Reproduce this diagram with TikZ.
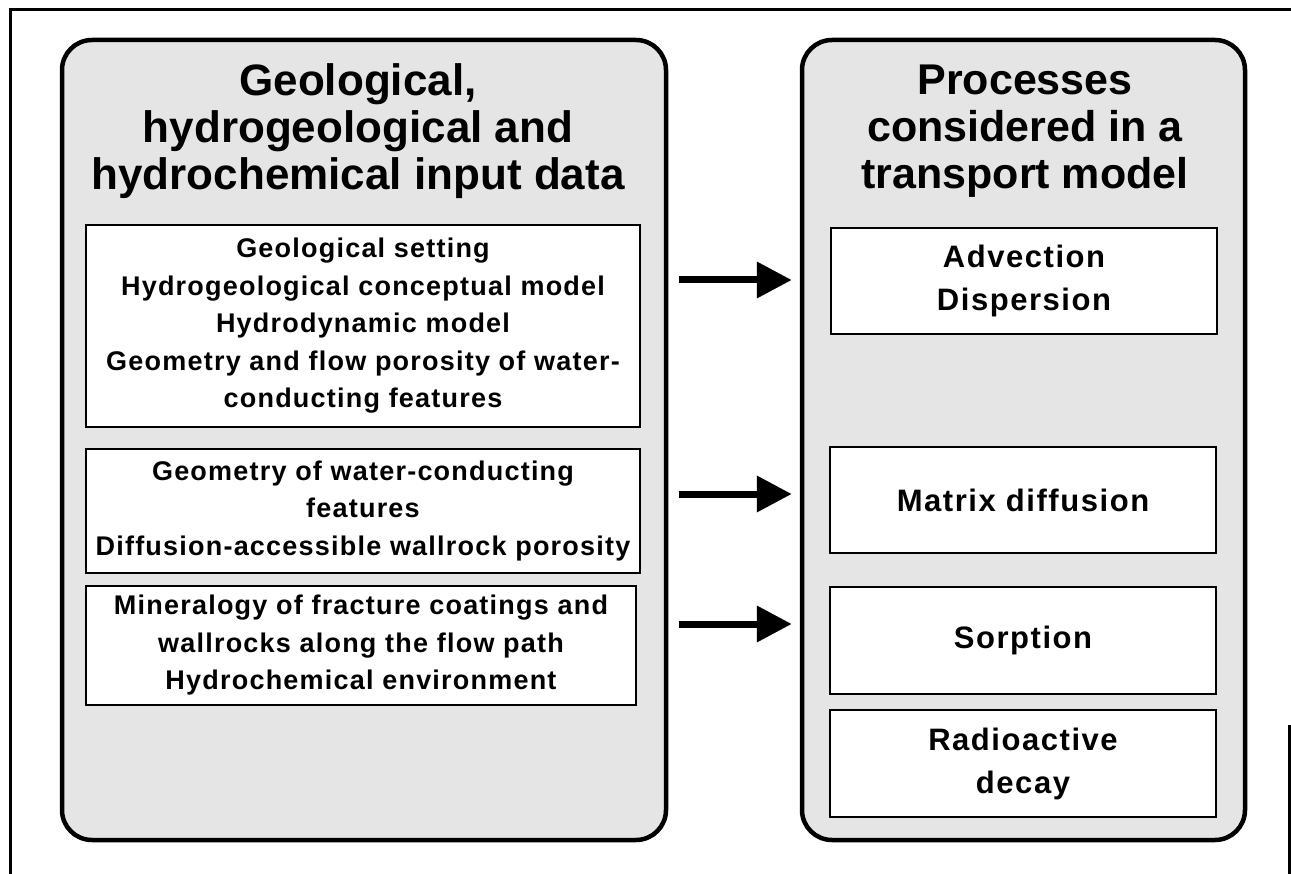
\documentclass[tikz,border=0pt]{standalone}
\usepackage{fontspec}
\setmainfont{Liberation Sans}
\usetikzlibrary{arrows.meta}

\tikzset{
  frameline/.style={line width=3pt},
  panel/.style={draw, line width=4.5pt, rounded corners=30pt, fill=black!10, inner sep=0pt},
  item/.style={draw, line width=1.6pt, fill=white, inner sep=0pt, align=center},
  headtext/.style={align=center, font=\fontsize{44}{47}\selectfont\bfseries},
  lefttext/.style={font=\fontsize{27}{37.5}\selectfont\bfseries\addfontfeatures{LetterSpace=4.5}},
  righttext/.style={font=\fontsize{31}{43}\selectfont\bfseries\addfontfeatures{LetterSpace=5}},
  flow/.style={line width=7pt, shorten >=8pt, -{Triangle[length=35pt,width=35pt]}}
}

\begin{document}
\begin{tikzpicture}[x=1pt,y=-1pt]
\useasboundingbox (0,0) rectangle (1291,874);

% outer frame
\draw[frameline] (10,874) -- (10,10) -- (1291,10);
\draw[frameline] (1289,725) -- (1289,874);

% the two rounded panels
\node[panel, minimum width=604pt, minimum height=800pt] (lbig) at (364,440) {};
\node[panel, minimum width=443pt, minimum height=800pt] (rbig) at (1023.5,440) {};

% panel headings
\node[headtext] (lhead) at (358,131) {Geological,\\hydrogeological and\\hydrochemical input data};
\node[headtext, font=\fontsize{43}{47}\selectfont\bfseries] (rhead) at (1025,131) {Processes\\considered in a\\transport model};

% input data boxes
\node[item, lefttext, minimum width=554pt, minimum height=202pt] (g1) at (363,326)
  {Geological setting\\Hydrogeological conceptual model\\Hydrodynamic model\\Geometry and flow porosity of water-\\conducting features};
\node[item, lefttext, minimum width=554pt, minimum height=124pt] (g2) at (363,511)
  {Geometry of water-conducting\\features\\Diffusion-accessible wallrock porosity};
\node[item, lefttext, minimum width=550pt, minimum height=119pt] (g3) at (361,645.5)
  {Mineralogy of fracture coatings and\\wallrocks along the flow path\\Hydrochemical environment};

% process boxes
\node[item, righttext, minimum width=386pt, minimum height=106pt] (pA) at (1024,281) {Advection\\Dispersion};
\node[item, righttext, minimum width=386pt, minimum height=106pt] (pB) at (1023,500) {Matrix diffusion};
\node[item, righttext, minimum width=386pt, minimum height=107pt] (pC) at (1023,640.5) {Sorption};
\node[item, righttext, minimum width=386pt, minimum height=107pt] (pD) at (1023,763.5) {Radioactive\\decay};

% arrows from data to processes
\coordinate (t1) at (679,280);
\coordinate (t2) at (679,494);
\coordinate (t3) at (679,624);
\draw[flow] (t1) -- (t1 -| rbig.west);
\draw[flow] (t2) -- (t2 -| rbig.west);
\draw[flow] (t3) -- (t3 -| rbig.west);
\end{tikzpicture}
\end{document}
